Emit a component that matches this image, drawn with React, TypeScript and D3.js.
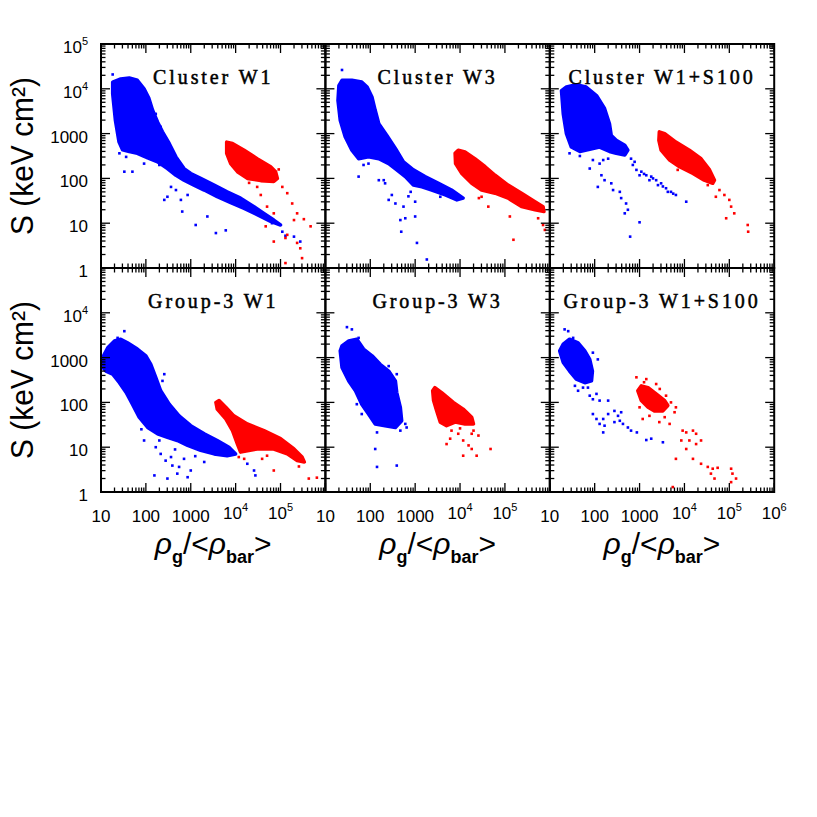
import * as d3 from "d3";

// every point is [log10 rho_g/<rho_bar>, log10 S]
type P = [number, number];

const clusterW1BlueCore: P[] = [
  [1.26, 4.15], [1.44, 4.22], [1.63, 4.24], [1.81, 4.19], [1.96, 4.0], [2.07, 3.78], [2.15, 3.52],
  [2.26, 3.26], [2.37, 3.04], [2.52, 2.78], [2.67, 2.48], [2.85, 2.22], [3.0, 2.11], [3.22, 2.0],
  [3.52, 1.85], [3.81, 1.7], [4.11, 1.56], [4.41, 1.37], [4.63, 1.22], [4.85, 1.07], [5.0, 0.96],
  [4.78, 1.04], [4.48, 1.19], [4.19, 1.33], [3.89, 1.46], [3.59, 1.59], [3.3, 1.74], [3.07, 1.85],
  [2.85, 1.96], [2.67, 2.07], [2.48, 2.22], [2.26, 2.37], [2.04, 2.46], [1.81, 2.56], [1.63, 2.6],
  [1.48, 2.64], [1.4, 2.82], [1.32, 3.3], [1.26, 3.89],
];
const clusterW1BlueDots: P[] = [
  [1.26, 4.32], [1.52, 2.15], [2.41, 1.52], [2.56, 1.81], [2.78, 1.52], [2.81, 1.26], [3.11, 0.96],
  [3.37, 1.15], [3.56, 0.78], [3.78, 0.84], [2.67, 1.74], [2.93, 1.63], [5.11, 0.72], [5.3, 0.7],
  [5.44, 0.59], [5.04, 0.81], [4.81, 1.0], [2.48, 1.59], [1.7, 2.15], [1.96, 2.33], [1.56, 2.48],
  [1.41, 2.56], [2.22, 3.44], [2.33, 3.15], [2.3, 2.3],
];
const clusterW1RedCore: P[] = [
  [3.8, 2.81], [3.93, 2.78], [4.19, 2.63], [4.48, 2.44], [4.78, 2.26], [4.89, 2.15], [4.93, 2.0],
  [4.85, 1.93], [4.56, 1.95], [4.26, 2.0], [4.04, 2.15], [3.89, 2.33], [3.8, 2.56],
];
const clusterW1RedDots: P[] = [
  [5.04, 1.81], [5.15, 1.67], [5.26, 1.44], [5.37, 1.22], [4.7, 1.37], [4.85, 1.22], [4.67, 0.93],
  [5.67, 0.93], [5.11, 0.67], [5.15, 0.74], [4.85, 0.59], [5.44, 0.44], [5.48, 0.22], [5.52, 1.09],
  [5.11, 0.11], [4.48, 1.81], [4.56, 1.63], [5.3, 1.07], [5.37, 0.56], [4.96, 2.2], [4.3, 1.9],
];

const clusterW3BlueCore: P[] = [
  [1.3, 4.07], [1.37, 4.19], [1.59, 4.19], [1.81, 4.15], [1.93, 4.04], [2.04, 3.81], [2.11, 3.52],
  [2.19, 3.22], [2.37, 2.96], [2.56, 2.67], [2.74, 2.37], [2.96, 2.19], [3.22, 2.04], [3.52, 1.89],
  [3.81, 1.74], [4.07, 1.56], [3.93, 1.52], [3.67, 1.63], [3.37, 1.74], [3.15, 1.81], [2.96, 1.85],
  [2.78, 2.04], [2.59, 2.19], [2.41, 2.33], [2.19, 2.44], [1.96, 2.48], [1.74, 2.44], [1.59, 2.63],
  [1.44, 2.93], [1.33, 3.3], [1.28, 3.74],
];
const clusterW3BlueDots: P[] = [
  [1.37, 4.42], [1.74, 2.04], [1.96, 2.33], [2.33, 1.89], [2.41, 1.52], [2.48, 1.63], [2.56, 1.44],
  [2.74, 1.37], [2.67, 1.07], [2.78, 1.11], [2.69, 0.81], [3.0, 1.15], [3.04, 0.56], [3.0, 1.48],
  [3.26, 0.19], [2.19, 1.96], [2.3, 1.96], [3.56, 1.59], [1.85, 2.3], [2.9, 1.7], [2.85, 1.6],
];
const clusterW3RedCore: P[] = [
  [3.89, 2.56], [3.96, 2.63], [4.11, 2.59], [4.33, 2.44], [4.56, 2.26], [4.78, 2.07], [5.07, 1.85],
  [5.37, 1.67], [5.67, 1.48], [5.85, 1.37], [5.87, 1.26], [5.67, 1.3], [5.37, 1.37], [5.07, 1.56],
  [4.78, 1.67], [4.48, 1.74], [4.26, 1.89], [4.04, 2.11], [3.9, 2.33],
];
const clusterW3RedDots: P[] = [
  [4.48, 1.59], [4.63, 1.37], [5.11, 1.15], [5.74, 1.11], [5.85, 0.96], [5.89, 0.85], [5.19, 0.63],
  [4.42, 1.56],
];

const clusterS100BlueCore: P[] = [
  [1.26, 3.96], [1.37, 4.04], [1.59, 4.09], [1.81, 4.04], [2.04, 3.85], [2.22, 3.56], [2.33, 3.22],
  [2.37, 2.96], [2.48, 2.85], [2.67, 2.74], [2.74, 2.63], [2.67, 2.52], [2.48, 2.56], [2.33, 2.6],
  [2.11, 2.7], [1.89, 2.65], [1.67, 2.6], [1.48, 2.7], [1.37, 3.0], [1.3, 3.44],
];
const clusterS100BlueDots: P[] = [
  [2.81, 2.44], [2.85, 2.3], [2.93, 2.19], [3.04, 2.15], [3.15, 2.07], [3.26, 2.04], [3.37, 1.96],
  [3.48, 1.89], [3.59, 1.78], [3.7, 1.7], [3.81, 1.63], [4.04, 1.48], [3.0, 2.07], [3.22, 1.96],
  [3.41, 1.85], [3.63, 1.7], [1.89, 2.22], [2.11, 2.33], [2.19, 2.41], [2.15, 2.07], [2.22, 1.96],
  [2.37, 1.89], [2.41, 1.74], [2.56, 1.7], [2.59, 1.56], [2.7, 1.44], [2.74, 1.3], [2.67, 1.22],
  [3.0, 1.02], [2.79, 0.7], [2.07, 1.81], [2.3, 2.44], [1.96, 2.41], [2.89, 2.37], [3.1, 2.1],
  [3.3, 2.0], [3.52, 1.82], [3.75, 1.66], [1.44, 2.56], [1.67, 2.5],
];
const clusterS100RedCore: P[] = [
  [3.44, 3.04], [3.56, 3.0], [3.81, 2.81], [4.11, 2.63], [4.37, 2.44], [4.56, 2.19], [4.67, 1.96],
  [4.63, 1.89], [4.44, 1.96], [4.19, 2.11], [3.89, 2.26], [3.67, 2.41], [3.48, 2.63], [3.43, 2.85],
];
const clusterS100RedDots: P[] = [
  [4.78, 1.74], [4.89, 1.63], [5.0, 1.52], [5.04, 1.37], [5.11, 1.22], [4.93, 1.11], [5.41, 0.96],
  [5.42, 0.81], [4.7, 1.59], [3.85, 2.19], [4.52, 1.85],
];

const groupW1BlueCore: P[] = [
  [1.07, 3.07], [1.15, 3.22], [1.3, 3.37], [1.44, 3.41], [1.59, 3.33], [1.81, 3.19], [2.0, 3.04],
  [2.11, 2.85], [2.22, 2.56], [2.33, 2.26], [2.52, 1.96], [2.74, 1.7], [3.0, 1.48], [3.3, 1.3],
  [3.59, 1.15], [3.85, 1.0], [4.0, 0.85], [3.81, 0.81], [3.52, 0.85], [3.22, 0.93], [2.93, 1.04],
  [2.7, 1.15], [2.48, 1.22], [2.26, 1.3], [2.04, 1.44], [1.85, 1.67], [1.7, 1.96], [1.56, 2.22],
  [1.41, 2.44], [1.26, 2.63], [1.11, 2.7], [1.04, 2.78], [1.04, 3.0],
];
const groupW1BlueDots: P[] = [
  [1.52, 3.59], [1.37, 3.44], [2.41, 2.63], [2.37, 2.48], [1.96, 1.15], [2.22, 1.0], [2.33, 0.85],
  [2.56, 0.78], [2.59, 0.59], [2.7, 0.41], [2.74, 0.56], [2.19, 0.37], [2.48, 0.3], [3.0, 0.48],
  [3.3, 0.67], [2.93, 0.33], [2.85, 0.74], [4.26, 0.63], [4.41, 0.48], [4.44, 0.37], [2.44, 0.7],
  [2.3, 1.15], [2.65, 0.95], [3.1, 0.8], [1.9, 1.4],
];
const groupW1RedCore: P[] = [
  [3.56, 2.0], [3.63, 2.04], [3.78, 1.89], [3.96, 1.7], [4.26, 1.52], [4.63, 1.37], [5.0, 1.19],
  [5.3, 0.96], [5.48, 0.78], [5.53, 0.67], [5.37, 0.7], [5.15, 0.85], [4.85, 0.96], [4.48, 0.96],
  [4.11, 0.89], [4.04, 1.07], [3.93, 1.37], [3.78, 1.63], [3.59, 1.85],
];
const groupW1RedDots: P[] = [
  [4.19, 0.74], [4.59, 0.74], [4.7, 0.81], [4.85, 0.48], [5.63, 0.3], [5.81, 0.32], [4.07, 0.78],
  [5.41, 0.57],
];

const groupW3BlueCore: P[] = [
  [1.33, 3.15], [1.37, 3.26], [1.52, 3.37], [1.7, 3.41], [1.85, 3.19], [2.04, 3.04], [2.22, 2.85],
  [2.41, 2.7], [2.56, 2.48], [2.59, 2.22], [2.67, 1.89], [2.7, 1.59], [2.56, 1.44], [2.33, 1.48],
  [2.11, 1.52], [1.96, 1.74], [1.81, 1.96], [1.67, 2.26], [1.52, 2.48], [1.37, 2.78],
];
const groupW3BlueDots: P[] = [
  [1.48, 3.68], [1.59, 3.63], [1.74, 3.44], [2.41, 2.81], [2.59, 2.63], [2.15, 1.33], [2.11, 0.96],
  [2.15, 0.56], [2.59, 0.59], [2.78, 1.52], [2.81, 1.44], [2.67, 1.37], [1.81, 1.74], [1.7, 1.96],
];
const groupW3RedCore: P[] = [
  [3.39, 2.26], [3.44, 2.33], [3.59, 2.22], [3.85, 2.0], [4.07, 1.85], [4.26, 1.67], [4.3, 1.52],
  [4.11, 1.52], [3.89, 1.56], [3.7, 1.48], [3.56, 1.56], [3.48, 1.81], [3.41, 2.04],
];
const groupW3RedDots: P[] = [
  [4.41, 1.26], [4.26, 1.3], [4.07, 1.15], [3.96, 1.3], [3.78, 1.19], [3.7, 1.07], [4.19, 1.04],
  [4.07, 0.81], [4.37, 0.81], [4.68, 0.96], [3.81, 1.37], [4.3, 1.37], [4.26, 0.96], [4.0, 1.42],
];

const groupS100BlueCore: P[] = [
  [1.22, 3.15], [1.3, 3.3], [1.44, 3.41], [1.63, 3.33], [1.78, 3.15], [1.89, 2.96], [1.95, 2.7],
  [1.93, 2.48], [1.78, 2.44], [1.59, 2.52], [1.44, 2.7], [1.3, 2.89],
];
const groupS100BlueDots: P[] = [
  [1.33, 3.63], [1.41, 3.59], [1.52, 3.44], [1.96, 3.11], [2.07, 2.96], [1.56, 2.37], [1.63, 2.26],
  [1.85, 2.33], [1.89, 2.15], [1.96, 2.07], [2.04, 2.19], [2.11, 2.04], [1.96, 1.74], [2.04, 1.63],
  [2.11, 1.52], [2.19, 1.63], [2.22, 1.48], [2.19, 1.33], [2.3, 2.04], [2.3, 1.74], [2.44, 1.81],
  [2.52, 1.7], [2.56, 1.59], [2.63, 1.52], [2.74, 1.44], [2.81, 1.37], [2.94, 1.33], [2.44, 1.56],
  [3.15, 1.16], [3.26, 1.19], [3.52, 1.11], [2.59, 1.78], [1.74, 2.33],
];
const groupS100RedCore: P[] = [
  [2.96, 2.26], [3.04, 2.37], [3.19, 2.33], [3.37, 2.19], [3.56, 2.04], [3.63, 1.93], [3.52, 1.81],
  [3.33, 1.81], [3.19, 1.89], [3.04, 2.04],
];
const groupS100RedDots: P[] = [
  [2.93, 2.56], [3.15, 2.52], [3.37, 2.41], [3.59, 2.15], [3.81, 1.89], [3.78, 1.78], [3.0, 1.89],
  [3.07, 1.63], [3.22, 1.7], [3.44, 1.56], [3.56, 1.67], [3.67, 1.52], [3.96, 1.37], [4.04, 1.33],
  [4.19, 1.37], [4.26, 1.3], [3.93, 1.15], [4.11, 1.15], [4.26, 1.07], [4.37, 1.15], [4.04, 0.96],
  [3.81, 0.74], [4.19, 0.74], [4.37, 0.63], [4.52, 0.56], [4.63, 0.52], [4.74, 0.54], [4.59, 0.41],
  [4.67, 0.3], [5.04, 0.52], [5.07, 0.41], [5.04, 0.22], [5.15, 0.3], [3.74, 0.11], [3.33, 2.07],
  [3.1, 2.45], [3.45, 2.3], [3.7, 2.0],
];

const titles = [
  "Cluster W1", "Cluster W3", "Cluster W1+S100",
  "Group-3 W1", "Group-3 W3", "Group-3 W1+S100",
];
const xLabelsInner = [10, 100, 1000, 1e4, 1e5];
const xLabelsLast = [10, 100, 1000, 1e4, 1e5, 1e6];
const yLabelsTop = [1, 10, 100, 1000, 1e4, 1e5];
const yLabelsBottom = [1, 10, 100, 1000, 1e4];

const panels = [
  { blueCore: clusterW1BlueCore, blueDots: clusterW1BlueDots, redCore: clusterW1RedCore, redDots: clusterW1RedDots },
  { blueCore: clusterW3BlueCore, blueDots: clusterW3BlueDots, redCore: clusterW3RedCore, redDots: clusterW3RedDots },
  { blueCore: clusterS100BlueCore, blueDots: clusterS100BlueDots, redCore: clusterS100RedCore, redDots: clusterS100RedDots },
  { blueCore: groupW1BlueCore, blueDots: groupW1BlueDots, redCore: groupW1RedCore, redDots: groupW1RedDots },
  { blueCore: groupW3BlueCore, blueDots: groupW3BlueDots, redCore: groupW3RedCore, redDots: groupW3RedDots },
  { blueCore: groupS100BlueCore, blueDots: groupS100BlueDots, redCore: groupS100RedCore, redDots: groupS100RedDots },
].map((p, i) => ({ ...p, title: titles[i], col: i % 3, row: Math.floor(i / 3) }));

const BLUE = "#0000ff";
const RED = "#ff0000";
const LEFT = 101;
const TOP = 44;
const PW = 224.4;
const PH = 224;
const SANS = "'Liberation Sans', Arial, sans-serif";
const SERIF = "'Liberation Serif', 'Times New Roman', serif";

function TickLabel({ v, x, y, anchor }: { v: number; x: number; y: number; anchor: string }) {
  const e = Math.round(Math.log10(v));
  if (v < 1e4) {
    return (
      <text x={x} y={y} textAnchor={anchor} fontSize={17} fontFamily={SANS}>
        {String(v)}
      </text>
    );
  }
  return (
    <text x={x} y={y} textAnchor={anchor} fontSize={17} fontFamily={SANS}>
      10
      <tspan fontSize={11} dy={-8}>{e}</tspan>
    </text>
  );
}

export default function App() {
  const x = d3.scaleLog().domain([10, 1e6]).range([0, PW]);
  const y = d3.scaleLog().domain([1, 1e5]).range([PH, 0]);
  const px = (d: P) => x(10 ** d[0]);
  const py = (d: P) => y(10 ** d[1]);
  const cloud = d3.line<P>().x(px).y(py).curve(d3.curveLinearClosed);
  const xTicks = x.ticks();
  const yTicks = y.ticks();
  const isMajor = (v: number) => Math.abs(Math.log10(v) - Math.round(Math.log10(v))) < 1e-6;

  return (
    <svg width={817} height={817} style={{ position: "absolute", left: 0, top: 0, background: "#fff" }}>
      <defs>
        <clipPath id="panel-clip">
          <rect x={0} y={0} width={PW} height={PH} />
        </clipPath>
      </defs>
      {panels.map((p, i) => {
        const ox = LEFT + p.col * PW;
        const oy = TOP + p.row * PH;
        return (
          <g key={i} transform={`translate(${ox},${oy})`}>
            <g clipPath="url(#panel-clip)">
              <path d={cloud(p.blueCore) ?? ""} fill={BLUE} stroke={BLUE} strokeWidth={3.5} strokeLinejoin="round" />
              {p.blueDots.map((d, j) => (
                <rect key={j} x={px(d) - 1.3} y={py(d) - 1.3} width={2.6} height={2.6} fill={BLUE} />
              ))}
              <path d={cloud(p.redCore) ?? ""} fill={RED} stroke={RED} strokeWidth={3.5} strokeLinejoin="round" />
              {p.redDots.map((d, j) => (
                <rect key={j} x={px(d) - 1.3} y={py(d) - 1.3} width={2.6} height={2.6} fill={RED} />
              ))}
            </g>
            <text x={PW / 2} y={39.5} textAnchor="middle" fontSize={20} fontFamily={SERIF}
              letterSpacing={2.9} stroke="#000" strokeWidth={0.5}>
              {p.title}
            </text>
            {/* inward ticks on all four sides */}
            {xTicks.map((t, j) => {
              const len = isMajor(t) ? 9 : 4.5;
              return (
                <g key={j}>
                  <line x1={x(t)} x2={x(t)} y1={PH} y2={PH - len} stroke="#000" strokeWidth={1.3} />
                  <line x1={x(t)} x2={x(t)} y1={0} y2={len} stroke="#000" strokeWidth={1.3} />
                </g>
              );
            })}
            {yTicks.map((t, j) => {
              const len = isMajor(t) ? 9 : 4.5;
              return (
                <g key={j}>
                  <line x1={0} x2={len} y1={y(t)} y2={y(t)} stroke="#000" strokeWidth={1.3} />
                  <line x1={PW} x2={PW - len} y1={y(t)} y2={y(t)} stroke="#000" strokeWidth={1.3} />
                </g>
              );
            })}
            <rect x={0} y={0} width={PW} height={PH} fill="none" stroke="#000" strokeWidth={2} />
            {p.row === 1 &&
              (p.col === 2 ? xLabelsLast : xLabelsInner).map((v) => (
                <TickLabel key={v} v={v} x={x(v)} y={PH + (v >= 1e4 ? 27 : 30)} anchor="middle" />
              ))}
            {p.col === 0 &&
              (p.row === 0 ? yLabelsTop : yLabelsBottom).map((v) => (
                <TickLabel key={v} v={v} x={-13} y={y(v) + 9} anchor="end" />
              ))}
            {p.col === 0 && (
              <text transform={`translate(-68,${PH / 2}) rotate(-90)`} textAnchor="middle"
                fontSize={31} fontFamily={SANS} textLength={158} lengthAdjust="spacingAndGlyphs">
                S (keV cm²)
              </text>
            )}
            {p.row === 1 && (
              <text x={PW / 2} y={PH + 62} textAnchor="middle" fontFamily={SANS} fontSize={30}>
                <tspan fontStyle="italic">ρ</tspan>
                <tspan fontSize={18} dy={9} fontWeight="bold">g</tspan>
                <tspan dy={-9}>/&lt;</tspan>
                <tspan fontStyle="italic">ρ</tspan>
                <tspan fontSize={18} dy={9} fontWeight="bold">bar</tspan>
                <tspan dy={-9}>&gt;</tspan>
              </text>
            )}
          </g>
        );
      })}
    </svg>
  );
}
